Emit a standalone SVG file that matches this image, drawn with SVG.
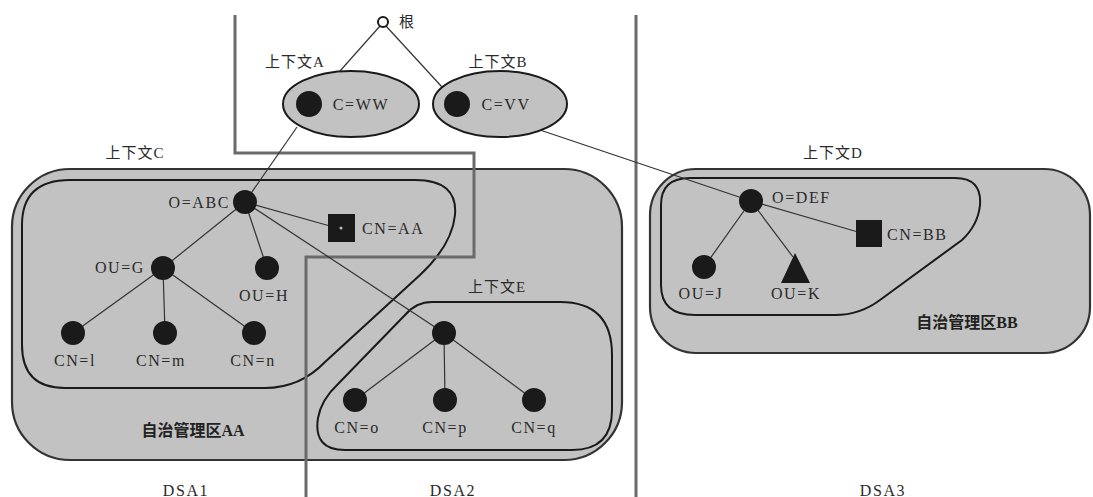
<svg xmlns="http://www.w3.org/2000/svg" width="1093" height="497" viewBox="0 0 1093 497">
<style>
.zone{fill:#c2c2c2;stroke:#333;stroke-width:2.2}
.ctx{fill:none;stroke:#1a1a1a;stroke-width:2}
.ell{fill:#c2c2c2;stroke:#1a1a1a;stroke-width:2}
.dsa{fill:none;stroke:#6a6a6a;stroke-width:3}
.edge{stroke:#333;stroke-width:1.2;fill:none}
.dot{fill:#1a1a1a}
.t{font-family:"Liberation Serif","Times New Roman",serif;font-size:16px;letter-spacing:1.6px;fill:#2a2a2a}
.c{font-family:"Liberation Serif","Noto Sans CJK SC",serif;font-size:15px;letter-spacing:1px;fill:#2a2a2a}
.b{font-family:"Liberation Serif","Noto Sans CJK SC",sans-serif;font-size:16px;font-weight:bold;fill:#222}
</style>
<rect width="1093" height="497" fill="#ffffff"/>
<g id="zone-AA">
<rect class="zone" x="12" y="169" width="610" height="291" rx="58" ry="58"/>
<text class="b" x="193" y="436" text-anchor="middle">自治管理区AA</text>
</g>
<g id="zone-BB">
<rect class="zone" x="650" y="169" width="440" height="184" rx="46" ry="46"/>
<text class="b" x="967" y="328" text-anchor="middle">自治管理区BB</text>
</g>
<g id="context-C">
<path class="ctx" d="M70,180 H415 Q458,180 455,215 Q452,245 420,275 L325,362 Q300,388 265,388 H65 Q22,388 22,345 V225 Q22,180 70,180 Z"/>
<text class="c" x="135" y="158" text-anchor="middle">上下文C</text>
</g>
<g id="context-E">
<path class="ctx" d="M432,302 H560 Q612,302 612,355 V410 Q612,450 572,450 H345 Q313,450 318,418 Q321,400 338,384 L405,315 Q416,302 432,302 Z"/>
<text class="c" x="497" y="292" text-anchor="middle">上下文E</text>
</g>
<g id="context-D">
<path class="ctx" d="M690,178 H955 Q982,178 980,205 Q978,225 962,240 L880,300 Q860,315 835,315 H695 Q661,315 661,285 V205 Q661,178 690,178 Z"/>
<text class="c" x="833" y="158" text-anchor="middle">上下文D</text>
</g>
<g id="dsa-boundaries">
<path class="dsa" d="M235,15 V153 H474 V257 H306 V497"/>
<path class="dsa" d="M636,15 V497"/>
<text class="t" x="186" y="496" text-anchor="middle">DSA1</text>
<text class="t" x="453" y="496" text-anchor="middle">DSA2</text>
<text class="t" x="883" y="496" text-anchor="middle">DSA3</text>
</g>
<g id="connectors">
<line class="edge" x1="380" y1="26" x2="340" y2="71"/>
<line class="edge" x1="386" y1="26" x2="442" y2="87"/>
<line class="edge" x1="297" y1="127" x2="245" y2="202"/>
<line class="edge" x1="540" y1="130" x2="751" y2="201"/>
<line class="edge" x1="245" y1="202" x2="163" y2="268"/>
<line class="edge" x1="245" y1="202" x2="267" y2="268"/>
<line class="edge" x1="245" y1="202" x2="330" y2="226"/>
<line class="edge" x1="245" y1="202" x2="444" y2="333"/>
<line class="edge" x1="163" y1="268" x2="73" y2="333"/>
<line class="edge" x1="163" y1="268" x2="165" y2="333"/>
<line class="edge" x1="163" y1="268" x2="254" y2="333"/>
<line class="edge" x1="444" y1="333" x2="355" y2="400"/>
<line class="edge" x1="444" y1="333" x2="445" y2="400"/>
<line class="edge" x1="444" y1="333" x2="534" y2="400"/>
<line class="edge" x1="751" y1="201" x2="704" y2="267"/>
<line class="edge" x1="751" y1="201" x2="793" y2="257"/>
<line class="edge" x1="751" y1="201" x2="858" y2="232"/>
</g>
<g id="root">
<circle cx="383" cy="22" r="5" fill="#fff" stroke="#1a1a1a" stroke-width="2"/>
<text class="c" x="407" y="27" text-anchor="middle">根</text>
</g>
<g id="context-A">
<ellipse class="ell" cx="351" cy="104" rx="68" ry="33"/>
<circle class="dot" cx="309" cy="104" r="13"/>
<text class="t" x="361" y="110" text-anchor="middle">C=WW</text>
<text class="c" x="295" y="67" text-anchor="middle">上下文A</text>
</g>
<g id="context-B">
<ellipse class="ell" cx="500" cy="104" rx="67" ry="33"/>
<circle class="dot" cx="457" cy="104" r="13"/>
<text class="t" x="506" y="110" text-anchor="middle">C=VV</text>
<text class="c" x="498" y="67" text-anchor="middle">上下文B</text>
</g>
<g id="node-O-ABC">
<circle class="dot" cx="245" cy="202" r="12"/>
<text class="t" x="230" y="208" text-anchor="end">O=ABC</text>
</g>
<g id="node-CN-AA">
<rect class="dot" x="328" y="214" width="27" height="28"/>
<circle cx="341" cy="228" r="1.5" fill="#bbb"/>
<text class="t" x="362" y="234">CN=AA</text>
</g>
<g id="node-OU-G">
<circle class="dot" cx="163" cy="268" r="12"/>
<text class="t" x="145" y="273" text-anchor="end">OU=G</text>
</g>
<g id="node-OU-H">
<circle class="dot" cx="267" cy="268" r="12"/>
<text class="t" x="264" y="301" text-anchor="middle">OU=H</text>
</g>
<g id="node-CN-l">
<circle class="dot" cx="73" cy="333" r="12"/>
<text class="t" x="75" y="366" text-anchor="middle">CN=l</text>
</g>
<g id="node-CN-m">
<circle class="dot" cx="165" cy="333" r="12"/>
<text class="t" x="161" y="366" text-anchor="middle">CN=m</text>
</g>
<g id="node-CN-n">
<circle class="dot" cx="254" cy="333" r="12"/>
<text class="t" x="253" y="366" text-anchor="middle">CN=n</text>
</g>
<g id="node-E-top">
<circle class="dot" cx="444" cy="333" r="12"/>
</g>
<g id="node-CN-o">
<circle class="dot" cx="355" cy="400" r="12"/>
<text class="t" x="357" y="433" text-anchor="middle">CN=o</text>
</g>
<g id="node-CN-p">
<circle class="dot" cx="445" cy="400" r="12"/>
<text class="t" x="445" y="433" text-anchor="middle">CN=p</text>
</g>
<g id="node-CN-q">
<circle class="dot" cx="534" cy="400" r="12"/>
<text class="t" x="534" y="433" text-anchor="middle">CN=q</text>
</g>
<g id="node-O-DEF">
<circle class="dot" cx="751" cy="201" r="12"/>
<text class="t" x="772" y="203">O=DEF</text>
</g>
<g id="node-CN-BB">
<rect class="dot" x="856" y="220" width="26" height="27"/>
<text class="t" x="887" y="240">CN=BB</text>
</g>
<g id="node-OU-J">
<circle class="dot" cx="704" cy="267" r="12"/>
<text class="t" x="701" y="299" text-anchor="middle">OU=J</text>
</g>
<g id="node-OU-K">
<polygon class="dot" points="795,253 781,283 810,283"/>
<text class="t" x="796" y="299" text-anchor="middle">OU=K</text>
</g>
</svg>
